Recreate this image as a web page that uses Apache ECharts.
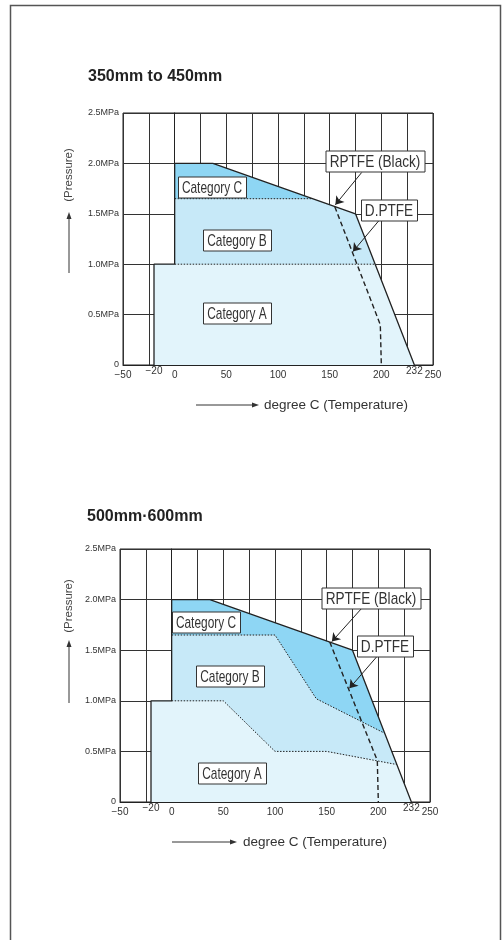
<!DOCTYPE html>
<html>
<head>
<meta charset="utf-8">
<script src="https://cdn.jsdelivr.net/npm/echarts@6/dist/echarts.min.js"></script>
<style>
  html, body { margin: 0; padding: 0; background: #fff; }
  #chart { width: 502px; height: 940px; }
</style>
</head>
<body>
<div id="chart"></div>
<script>
// ---------- data ----------
const titles = ['350mm to 450mm', '500mm\u00b7600mm'];
const xTickValues = [-50, -20, 0, 50, 100, 150, 200, 232, 250];
const xTickLabels = ['\u221250', '\u221220', '0', '50', '100', '150', '200', '232', '250'];
const raisedTicks = [-20, 232];
const yTickValues = [0, 0.5, 1.0, 1.5, 2.0, 2.5];
const yTickLabels = ['0', '0.5MPa', '1.0MPa', '1.5MPa', '2.0MPa', '2.5MPa'];

// Chart 1 (350mm to 450mm)
const outline1 = [[-20, 0], [-20, 1.0], [0, 1.0], [0, 2.0], [37, 2.0], [175, 1.5], [232, 0]];
const catBFill1 = [[0, 0], [0, 1.65], [133, 1.65], [175, 1.5], [232, 0]];
const catAFill1 = [[-20, 0], [-20, 1.0], [194, 1.0], [232, 0]];
const dottedCB1 = [[0, 1.65], [133, 1.65]];
const dottedAB1 = [[0, 1.0], [194, 1.0]];
const dashed1 = [[155, 1.57], [199, 0.4], [200, 0]];

// Chart 2 (500mm·600mm)
const outline2 = [[-20, 0], [-20, 1.0], [0, 1.0], [0, 2.0], [37, 2.0], [175, 1.5], [232, 0]];
const catBFill2 = [[0, 0], [0, 1.65], [100, 1.65], [140, 1.02], [206, 0.68], [232, 0]];
const catAFill2 = [[-20, 0], [-20, 1.0], [50, 1.0], [100, 0.5], [150, 0.5], [218, 0.37], [232, 0]];
const dottedCB2 = [[0, 1.65], [100, 1.65], [140, 1.02], [206, 0.68]];
const dottedAB2 = [[0, 1.0], [50, 1.0], [100, 0.5], [150, 0.5], [218, 0.37]];
const dashed2 = [[153, 1.58], [199, 0.41], [200, 0]];

// annotation labels [x, y, text]
const labels1 = [[36, 1.77, 'Category C'], [60, 1.24, 'Category B'], [60.5, 0.515, 'Category A'],
                 [194, 2.02, 'RPTFE (Black)'], [207, 1.54, 'D.PTFE']];
const labels2 = [[33.5, 1.78, 'Category C'], [56.7, 1.25, 'Category B'], [58.4, 0.29, 'Category A'],
                 [192.7, 2.02, 'RPTFE (Black)'], [206.2, 1.54, 'D.PTFE']];
// annotation arrows [[x1,y1],[x2,y2]]
const arrows1 = [[[181, 1.91], [155.5, 1.59]], [[198.3, 1.44], [172.5, 1.125]]];
const arrows2 = [[[184, 1.915], [155, 1.585]], [[198.5, 1.436], [172, 1.123]]];

// ---------- styling ----------
const colC = '#8ed6f4';
const colB = '#c7e9f8';
const colA = '#e2f4fb';
const ink = '#222';
const sans = "'Liberation Sans', Arial, sans-serif";
const boxFontSize = 17;
const boxFont = boxFontSize + "px 'Liberation Sans', Arial, sans-serif";

const grids = [
  { left: 123, top: 113, width: 310, height: 252 },
  { left: 120, top: 549, width: 310, height: 253 }
];

function xLabel(v) {
  const i = xTickValues.indexOf(v);
  return i >= 0 ? xTickLabels[i] : '';
}
function yLabel(v) {
  for (let i = 0; i < yTickValues.length; i++) {
    if (Math.abs(yTickValues[i] - v) < 1e-6) return yTickLabels[i];
  }
  return '';
}

const xAxes = [], yAxes = [];
grids.forEach((g, gi) => {
  xAxes.push({
    type: 'value', gridIndex: gi, min: -50, max: 250, interval: 25,
    axisLine: { show: true, onZero: false, lineStyle: { color: ink, width: 1 } },
    axisTick: { show: false },
    splitLine: { show: true, lineStyle: { color: '#333', width: 1 } },
    axisLabel: {
      margin: 5, fontSize: 10, color: '#333', fontFamily: sans,
      formatter: v => raisedTicks.includes(v) ? '' : xLabel(v)
    }
  });
  xAxes.push({
    type: 'value', gridIndex: gi, min: -50, max: 250, position: 'bottom',
    axisLine: { show: false }, axisTick: { show: false }, splitLine: { show: false },
    axisLabel: {
      margin: 1, fontSize: 10, color: '#333', fontFamily: sans,
      customValues: raisedTicks,
      formatter: v => raisedTicks.includes(v) ? xLabel(v) : ''
    }
  });
  yAxes.push({
    type: 'value', gridIndex: gi, min: 0, max: 2.5, interval: 0.5,
    axisLine: { show: true, lineStyle: { color: ink, width: 1 } },
    axisTick: { show: false },
    splitLine: { show: true, lineStyle: { color: '#333', width: 1 } },
    axisLabel: { margin: 4, fontSize: 9, color: '#333', fontFamily: sans, formatter: yLabel }
  });
});

function areaSeries(data, color, gi, z) {
  return {
    type: 'line', xAxisIndex: gi * 2, yAxisIndex: gi, data: data,
    symbol: 'none', silent: true, z: z, animation: false,
    lineStyle: { width: 0, opacity: 0 },
    areaStyle: { color: color, opacity: 1, origin: 'start' }
  };
}
function lineSeries(data, gi, type, width, z) {
  return {
    type: 'line', xAxisIndex: gi * 2, yAxisIndex: gi, data: data,
    symbol: 'none', silent: true, z: z, animation: false,
    lineStyle: { color: ink, width: width, type: type }
  };
}
function arrowSeries(arr, gi) {
  return {
    type: 'lines', coordinateSystem: 'cartesian2d', xAxisIndex: gi * 2, yAxisIndex: gi,
    z: 8, silent: true, animation: false,
    symbol: ['none', 'arrow'], symbolSize: [0, 8],
    lineStyle: { color: ink, width: 1, opacity: 1 },
    data: arr.map(a => ({ coords: a }))
  };
}

const chartsData = [
  { outline: outline1, b: catBFill1, a: catAFill1, cb: dottedCB1, ab: dottedAB1, dash: dashed1, labels: labels1, arrows: arrows1 },
  { outline: outline2, b: catBFill2, a: catAFill2, cb: dottedCB2, ab: dottedAB2, dash: dashed2, labels: labels2, arrows: arrows2 }
];

const series = [];
chartsData.forEach((c, gi) => {
  series.push(areaSeries(c.outline, colC, gi, 2));
  series.push(areaSeries(c.b, colB, gi, 3));
  series.push(areaSeries(c.a, colA, gi, 4));
  series.push(lineSeries(c.cb, gi, [1.5, 1.5], 1, 5));
  series.push(lineSeries(c.ab, gi, [1.5, 1.5], 1, 5));
  series.push(lineSeries(c.outline, gi, 'solid', 1.3, 6));
  series.push(lineSeries(c.dash, gi, [5, 3], 1.4, 6));
  series.push(arrowSeries(c.arrows, gi));
});

function upArrow(x, yTip, yTail) {
  return [
    { type: 'line', shape: { x1: x, y1: yTail, x2: x, y2: yTip + 5 }, style: { stroke: '#333', lineWidth: 1 } },
    { type: 'polygon', shape: { points: [[x, yTip], [x - 2.5, yTip + 7], [x + 2.5, yTip + 7]] }, style: { fill: '#333' } }
  ];
}
function rightArrow(xTail, xTip, y) {
  return [
    { type: 'line', shape: { x1: xTail, y1: y, x2: xTip - 5, y2: y }, style: { stroke: '#333', lineWidth: 1 } },
    { type: 'polygon', shape: { points: [[xTip, y], [xTip - 7, y - 2.5], [xTip - 7, y + 2.5]] }, style: { fill: '#333' } }
  ];
}
function vText(x, y, txt) {
  return { type: 'text', x: x, y: y, rotation: Math.PI / 2,
    style: { text: txt, font: "11.5px 'Liberation Sans', sans-serif", fill: '#444', align: 'center', verticalAlign: 'middle' } };
}
function hText(x, y, txt) {
  return { type: 'text', x: x, y: y,
    style: { text: txt, font: "13.5px 'Liberation Sans', sans-serif", fill: '#333', align: 'left', verticalAlign: 'middle' } };
}

const graphic = [
  { type: 'rect', shape: { x: 10.5, y: 5.5, width: 490, height: 1000 }, style: { fill: 'none', stroke: '#555', lineWidth: 1.5 } },
  vText(69, 175, '(Pressure)'),
  ...upArrow(69, 212, 273),
  ...rightArrow(196, 259, 405),
  hText(264, 405, 'degree C (Temperature)'),
  vText(69, 606, '(Pressure)'),
  ...upArrow(69, 640, 703),
  ...rightArrow(172, 237, 842),
  hText(243, 842, 'degree C (Temperature)')
];

const chart = echarts.init(document.getElementById('chart'), null, { renderer: 'canvas' });
chart.setOption({
  backgroundColor: '#fff',
  animation: false,
  title: [
    { text: titles[0], left: 88, top: 69, padding: 0, textStyle: { fontSize: 16, fontWeight: 'bold', color: '#222', fontFamily: sans } },
    { text: titles[1], left: 87, top: 509, padding: 0, textStyle: { fontSize: 16, fontWeight: 'bold', color: '#222', fontFamily: sans } }
  ],
  grid: grids.map(g => Object.assign({ show: true, borderColor: ink, borderWidth: 1, backgroundColor: 'transparent' }, g)),
  xAxis: xAxes,
  yAxis: yAxes,
  series: series,
  graphic: { elements: graphic }
});

// annotation boxes: positioned through the chart's own scales (convertToPixel),
// drawn with horizontally condensed text to imitate the condensed face.
const measureCtx = document.createElement('canvas').getContext('2d');
measureCtx.font = boxFont;
const boxGraphics = [];
chartsData.forEach((c, gi) => {
  c.labels.forEach(l => {
    const p = chart.convertToPixel({ gridIndex: gi }, [l[0], l[1]]);
    const upperHeavy = l[2].indexOf('PTFE') >= 0;
    const sx = upperHeavy ? 0.8 : 0.7;
    const tw = measureCtx.measureText(l[2]).width * sx;
    const w = Math.round(tw + 8), h = 21;
    const cx = Math.round(p[0]), cy = Math.round(p[1]);
    boxGraphics.push({
      type: 'rect', z: 100, zlevel: 0,
      shape: { x: cx - w / 2 + 0.5, y: cy - h / 2 + 0.5, width: w, height: h },
      style: { fill: '#fff', stroke: '#333', lineWidth: 1 }
    });
    boxGraphics.push({
      type: 'text', z: 101, zlevel: 0, x: cx, y: cy + 1, scaleX: sx,
      style: { text: l[2], font: boxFont, fill: '#333', align: 'center', verticalAlign: 'middle' }
    });
  });
});
chart.setOption({ graphic: { elements: graphic.concat(boxGraphics) } });
</script>
</body>
</html>
